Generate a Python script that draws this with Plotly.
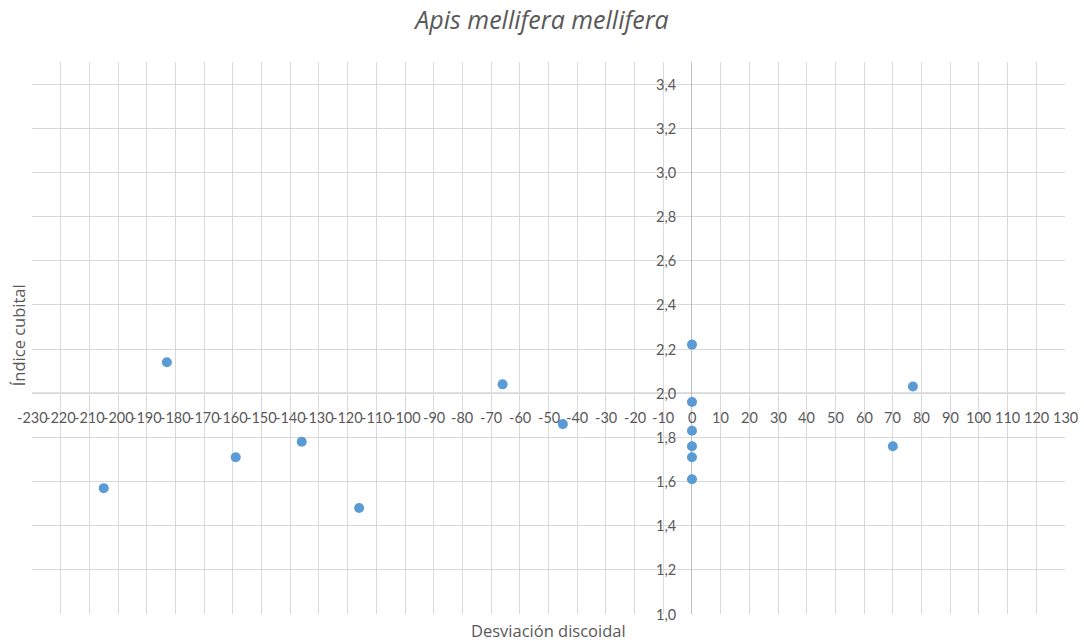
import plotly.graph_objects as go

# Desviación discoidal (x) and Índice cubital (y) per sample
desviacion = [-205, -183, -159, -136, -116, -66, -45, 0, 0, 0, 0, 0, 0, 70, 77]
indice = [1.57, 2.14, 1.71, 1.78, 1.48, 2.04, 1.86, 2.22, 1.96, 1.83, 1.76, 1.71, 1.61, 1.76, 2.03]

x_ticks = list(range(-230, 131, 10))
y_ticks = [1.0, 1.2, 1.4, 1.6, 1.8, 2.0, 2.2, 2.4, 2.6, 2.8, 3.0, 3.2, 3.4]
y_cross = 2.0  # value where the horizontal axis crosses

TICK_FONT = "Lato, Open Sans, sans-serif"
TITLE_FONT = "Open Sans, Lato, sans-serif"
TXT = "#595959"
GRID = "#D9D9D9"
AXIS = "#BFBFBF"

fig = go.Figure()
fig.add_trace(go.Scatter(
    x=desviacion, y=indice, mode="markers",
    marker=dict(color="#5B9BD5", size=10, line=dict(width=0)),
    hoverinfo="x+y", showlegend=False,
))

annotations = []
for v in x_ticks:
    annotations.append(dict(
        x=v, y=y_cross, xref="x", yref="y", text=str(v), showarrow=False,
        xanchor="center", yanchor="middle", yshift=-24,
        font=dict(family=TICK_FONT, size=14.5, color=TXT),
    ))
for v in y_ticks:
    annotations.append(dict(
        x=0, y=v, xref="x", yref="y", text=f"{v:.1f}".replace(".", ","), showarrow=False,
        xanchor="right", yanchor="middle", xshift=-14,
        font=dict(family=TICK_FONT, size=14.5, color=TXT),
    ))
annotations.append(dict(
    x=0.5, y=0, xref="paper", yref="paper", text="Desviación discoidal",
    showarrow=False, xanchor="center", yanchor="top", yshift=-3,
    font=dict(family=TITLE_FONT, size=16.5, color=TXT),
))
annotations.append(dict(
    x=0, y=0.505, xref="paper", yref="paper", text="Índice cubital",
    showarrow=False, xanchor="center", yanchor="middle", textangle=-90, xshift=-14,
    font=dict(family=TITLE_FONT, size=16.5, color=TXT),
))

fig.update_layout(
    width=1084, height=641,
    margin=dict(l=32, r=19, t=62, b=27),
    paper_bgcolor="white", plot_bgcolor="white",
    title=dict(text="<i>Apis mellifera mellifera</i>", x=0.5, xanchor="center",
               y=0.968, yanchor="middle",
               font=dict(family=TITLE_FONT, size=25, color=TXT)),
    xaxis=dict(range=[-230, 130], tickvals=x_ticks, showticklabels=False,
               showgrid=True, gridcolor=GRID, gridwidth=1.3,
               zeroline=True, zerolinecolor=AXIS, zerolinewidth=1.3,
               showline=False, fixedrange=True),
    yaxis=dict(range=[1.0, 3.5], tickvals=y_ticks, showticklabels=False,
               showgrid=True, gridcolor=GRID, gridwidth=1.3,
               zeroline=False, showline=False, fixedrange=True),
    shapes=[dict(type="line", xref="x", yref="y", x0=-230, x1=130,
                 y0=y_cross, y1=y_cross, line=dict(color=AXIS, width=1.3),
                 layer="below")],
    annotations=annotations,
)

fig.write_html("out.html")
